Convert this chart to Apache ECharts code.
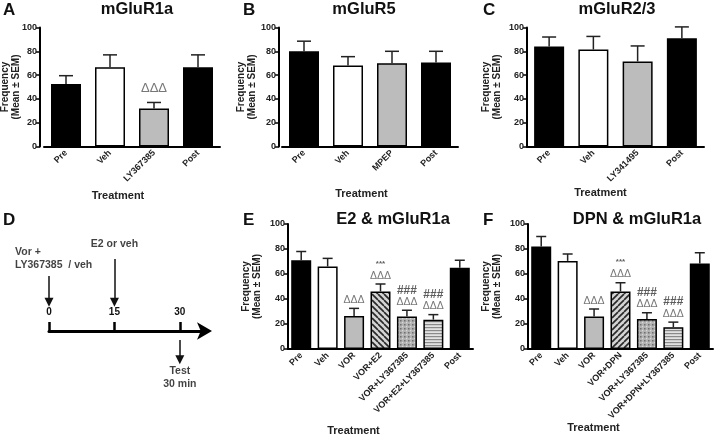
<!DOCTYPE html>
<html><head><meta charset="utf-8">
<script src="https://cdn.jsdelivr.net/npm/echarts@6/dist/echarts.min.js"></script>
<style>html,body{margin:0;padding:0;background:#fff}#c{width:720px;height:441px}</style>
</head><body><div id="c"></div>
<script>
// ---------------- data ----------------
const catsA = ['Pre', 'Veh', 'LY367385', 'Post'];
const meanA = [52.5, 66.5, 32, 66.5];
const semA  = [7, 10.5, 5, 10.5];
const marksA = ['', '', 'ΔΔΔ', ''];

const catsB = ['Pre', 'Veh', 'MPEP', 'Post'];
const meanB = [80, 68, 70, 70.5];
const semB  = [8.5, 7.5, 10, 9.5];
const marksB = ['', '', '', ''];

const catsC = ['Pre', 'Veh', 'LY341495', 'Post'];
const meanC = [84, 81.5, 71.5, 91];
const semC  = [8, 11, 13, 9.5];
const marksC = ['', '', '', ''];

const catsE = ['Pre', 'Veh', 'VOR', 'VOR+E2', 'VOR+LY367385', 'VOR+E2+LY367385', 'Post'];
const meanE = [71, 66, 26.5, 46, 26, 23.5, 65];
const semE  = [7, 6.5, 6, 6, 5, 4, 6];
const marksE = ['', '', 'ΔΔΔ', '***\nΔΔΔ', '###\nΔΔΔ', '###\nΔΔΔ', ''];

const catsF = ['Pre', 'Veh', 'VOR', 'VOR+DPN', 'VOR+LY367385', 'VOR+DPN+LY367385', 'Post'];
const meanF = [82, 70.5, 26, 46, 24, 17.5, 68.5];
const semF  = [8, 5.5, 6, 7, 5, 4, 8.5];
const marksF = ['', '', 'ΔΔΔ', '***\nΔΔΔ', '###\nΔΔΔ', '###\nΔΔΔ', ''];

const yTicks = [0, 20, 40, 60, 80, 100];

// timeline (panel D), minutes
const timeTicks = [0, 15, 30];
const timeEvents = [
  {t: 0,  text: 'Vor +\nLY367385  / veh', from: 61, to: 32},
  {t: 15, text: 'E2 or veh', from: 80, to: 32},
  {t: 30, text: 'Test\n30 min', from: -10, to: -32}
];

// ---------------- styling ----------------
const FONT = 'Liberation Sans, Arial, Helvetica, sans-serif';

function makePattern(kind) {
  const c = document.createElement('canvas');
  const g = c.getContext('2d');
  if (kind === 'diagBack' || kind === 'diagFwd') {
    c.width = c.height = 6;
    g.fillStyle = '#d4d4d4'; g.fillRect(0, 0, 6, 6);
    g.strokeStyle = '#2a2a2a'; g.lineWidth = 1.7;
    for (let k = -1; k <= 1; k++) {
      g.beginPath();
      if (kind === 'diagFwd') { g.moveTo(k * 6, 6); g.lineTo(k * 6 + 6, 0); }
      else { g.moveTo(k * 6, 0); g.lineTo(k * 6 + 6, 6); }
      g.stroke();
    }
  } else if (kind === 'dots') {
    c.width = c.height = 4;
    g.fillStyle = '#b2b2b2'; g.fillRect(0, 0, 4, 4);
    g.fillStyle = '#6e6e6e'; g.fillRect(0, 0, 1.5, 1.5);
    g.fillStyle = '#dadada'; g.fillRect(2, 2, 1.2, 1.2);
  } else if (kind === 'hlines') {
    c.width = 4; c.height = 3;
    g.fillStyle = '#e2e2e2'; g.fillRect(0, 0, 4, 3);
    g.fillStyle = '#8a8a8a'; g.fillRect(0, 0, 4, 1.2);
  }
  return {image: c, repeat: 'repeat'};
}
const FILL = {
  black: '#000000', white: '#ffffff', gray: '#bcbcbc',
  diagBack: makePattern('diagBack'), diagFwd: makePattern('diagFwd'),
  dots: makePattern('dots'), hlines: makePattern('hlines')
};

const panels = [
  {cats: catsA, mean: meanA, sem: semA, marks: marksA, fill: ['black', 'white', 'gray', 'black'],
   grid: {left: 44, top: 27.5, width: 176, height: 119}, yOff: 4, barW: 30, cap: 14,
   yGap: 18, xGap: 44, xPad: 28, dSize: 13},
  {cats: catsB, mean: meanB, sem: semB, marks: marksB, fill: ['black', 'white', 'gray', 'black'],
   grid: {left: 282, top: 27.5, width: 176, height: 119}, yOff: 3, barW: 30, cap: 14,
   yGap: 21, xGap: 42, xPad: 17, dSize: 13},
  {cats: catsC, mean: meanC, sem: semC, marks: marksC, fill: ['black', 'white', 'gray', 'black'],
   grid: {left: 527, top: 27.5, width: 177, height: 119}, yOff: 0, barW: 30, cap: 14,
   yGap: 24, xGap: 41, xPad: 30, dSize: 13},
  {cats: catsE, mean: meanE, sem: semE, marks: marksE,
   fill: ['black', 'white', 'gray', 'diagBack', 'dots', 'hlines', 'black'],
   grid: {left: 288, top: 224, width: 185, height: 125}, yOff: 0, barW: 20, cap: 10,
   yGap: 25, xGap: 76, xPad: 54, dSize: 10.5},
  {cats: catsF, mean: meanF, sem: semF, marks: marksF,
   fill: ['black', 'white', 'gray', 'diagFwd', 'dots', 'hlines', 'black'],
   grid: {left: 528, top: 224, width: 185, height: 125}, yOff: 0, barW: 20, cap: 10,
   yGap: 25, xGap: 73, xPad: 54, dSize: 10.5}
];

const grids = [], xAxes = [], yAxes = [], series = [];

panels.forEach((p, gi) => {
  grids.push(Object.assign({outerBoundsMode: 'none', containLabel: false}, p.grid));
  xAxes.push({
    type: 'category', gridIndex: gi, data: p.cats,
    axisLine: {lineStyle: {color: '#000', width: 2}},
    axisTick: {alignWithLabel: true, length: 4, lineStyle: {color: '#000', width: 1.5}},
    axisLabel: {rotate: 45, fontSize: 9, fontWeight: 'bold', color: '#222', margin: 5, fontFamily: FONT, interval: 0},
    splitLine: {show: false},
    name: 'Treatment', nameLocation: 'middle', nameGap: p.xGap, nameMoveOverlap: false,
    nameTextStyle: {fontSize: 11, fontWeight: 'bold', color: '#222', fontFamily: FONT,
                    padding: [0, p.xPad, 0, 0], verticalAlign: 'top'}
  });
  yAxes.push({
    type: 'value', gridIndex: gi, min: 0, max: 100, interval: 20, offset: p.yOff,
    axisLine: {show: true, lineStyle: {color: '#000', width: 2}},
    axisTick: {show: true, length: 4, lineStyle: {color: '#000', width: 1.5}},
    axisLabel: {fontSize: 9, fontWeight: 'bold', color: '#222', margin: 3, fontFamily: FONT,
                customValues: yTicks},
    splitLine: {show: false},
    name: 'Frequency\n(Mean ± SEM)', nameLocation: 'middle', nameGap: p.yGap, nameRotate: 90,
    nameMoveOverlap: false,
    nameTextStyle: {fontSize: 10, fontWeight: 'bold', color: '#222', fontFamily: FONT, lineHeight: 11}
  });
  series.push({
    type: 'bar', xAxisIndex: gi, yAxisIndex: gi, barWidth: p.barW,
    data: p.mean.map((m, i) => ({
      value: m,
      itemStyle: {color: FILL[p.fill[i]], borderColor: '#000', borderWidth: 1.5}
    })),
    silent: true, z: 2
  });
  const cap = p.cap;
  series.push({
    type: 'custom', xAxisIndex: gi, yAxisIndex: gi, z: 3, silent: true,
    data: p.mean.map((m, i) => [i, m, m + p.sem[i]]),
    renderItem(params, api) {
      const x = api.value(0);
      const a = api.coord([x, api.value(1)]);
      const b = api.coord([x, api.value(2)]);
      const st = {stroke: '#222', lineWidth: 1.5};
      return {type: 'group', children: [
        {type: 'line', shape: {x1: a[0], y1: a[1], x2: b[0], y2: b[1]}, style: st},
        {type: 'line', shape: {x1: b[0] - cap / 2, y1: b[1], x2: b[0] + cap / 2, y2: b[1]}, style: st}
      ]};
    }
  });
  const ds = p.dSize;
  series.push({
    type: 'scatter', xAxisIndex: gi, yAxisIndex: gi, symbolSize: 0, silent: true, z: 4,
    data: p.mean.map((m, i) => ({value: [i, m + p.sem[i]], name: p.marks[i]})),
    label: {
      show: true, position: 'top', distance: gi === 0 ? 7 : 2,
      formatter: (d) => d.name ? d.name.split('\n').map(l =>
        l === 'ΔΔΔ' ? '{d|ΔΔΔ}' : (l === '***' ? '{s|***}' : '{h|###}')).join('\n') : '',
      rich: {
        d: {fontSize: ds, color: '#555', fontFamily: FONT, lineHeight: ds + 2},
        s: {fontSize: 8, fontWeight: 'bold', color: '#333', fontFamily: FONT, lineHeight: 12},
        h: {fontSize: 12, fontWeight: 'bold', color: '#333', fontFamily: FONT, lineHeight: 11}
      }
    }
  });
});

// ---- panel D: timeline (axis along the grid's top edge) ----
const gD = grids.length;
grids.push({left: 49, top: 331, width: 157, height: 90, outerBoundsMode: 'none', containLabel: false});
xAxes.push({
  type: 'value', gridIndex: gD, min: 0, max: 36, position: 'top',
  axisLine: {show: true, onZero: false, lineStyle: {color: '#000', width: 3},
             symbol: ['none', 'arrow'], symbolSize: [13, 15], symbolOffset: [0, 6]},
  axisTick: {show: true, inside: false, length: 9, lineStyle: {color: '#000', width: 2.5}, customValues: timeTicks},
  axisLabel: {inside: false, margin: 14, fontSize: 10, fontWeight: 'bold', color: '#111', fontFamily: FONT,
              customValues: timeTicks},
  splitLine: {show: false}
});
yAxes.push({type: 'value', gridIndex: gD, min: -100, max: 0, show: false});
series.push({
  type: 'lines', coordinateSystem: 'cartesian2d', xAxisIndex: gD, yAxisIndex: gD, clip: false,
  symbol: ['none', 'triangle'], symbolSize: [9, 9], silent: true,
  lineStyle: {color: '#111', width: 1.5, opacity: 1},
  itemStyle: {color: '#111'},
  data: timeEvents.map(e => ({coords: [[e.t, e.from], [e.t, e.to]]}))
});
series.push({
  type: 'scatter', xAxisIndex: gD, yAxisIndex: gD, symbolSize: 0, silent: true, clip: false,
  data: timeEvents.map((e, i) => ({
    value: i === 2 ? [e.t, e.to] : [e.t, e.from],
    name: e.text,
    label: i === 0 ? {position: 'top', align: 'left', offset: [-34, 0], distance: 4}
         : i === 1 ? {position: 'top', distance: 8}
         : {position: 'bottom', distance: 5}
  })),
  label: {show: true, formatter: '{b}', fontSize: 10.5, fontWeight: 'bold', color: '#111',
          fontFamily: FONT, lineHeight: 13}
});

// ---- titles / panel letters ----
const T = (text, x, y, size, center) => ({
  text, left: x, top: y, padding: 0, textAlign: center ? 'center' : 'left',
  textStyle: {fontSize: size, fontWeight: 'bold', color: '#111', fontFamily: FONT}
});
const titles = [
  T('A', 3, 2, 17), T('B', 243, 2, 17), T('C', 483, 2, 17),
  T('D', 3, 212, 17), T('E', 243, 212, 17), T('F', 483, 212, 17),
  T('mGluR1a', 137, 1, 16.5, true), T('mGluR5', 364, 1, 16.5, true), T('mGluR2/3', 617, 1, 16.5, true),
  T('E2 & mGluR1a', 393, 211, 16.5, true), T('DPN & mGluR1a', 637, 211, 16.5, true)
];

const chart = echarts.init(document.getElementById('c'), null, {renderer: 'canvas'});
chart.setOption({
  backgroundColor: '#fff', animation: false,
  title: titles, grid: grids, xAxis: xAxes, yAxis: yAxes, series
});
</script></body></html>
